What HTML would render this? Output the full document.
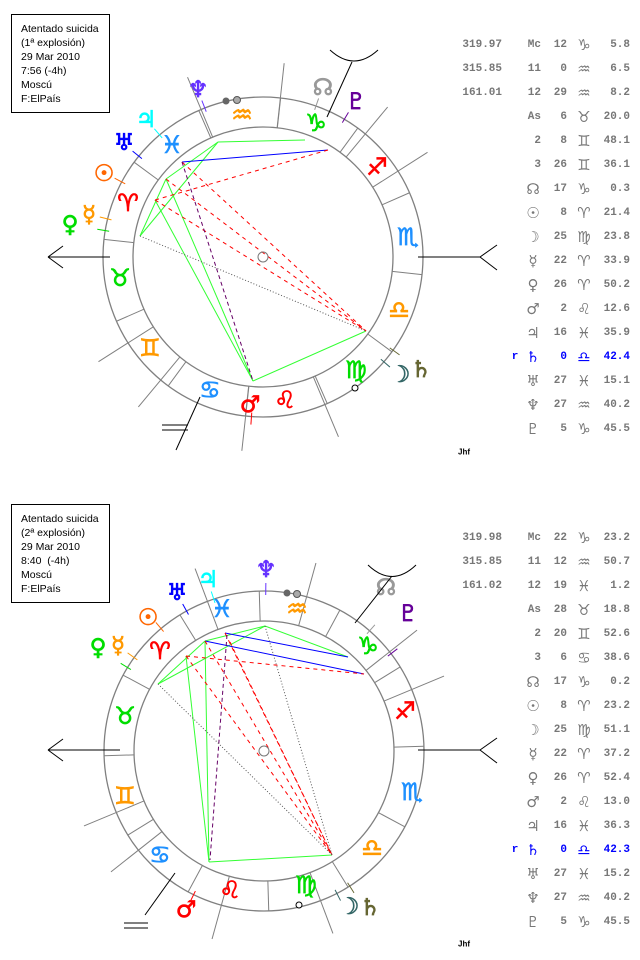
<!DOCTYPE html>
<html><head><meta charset="utf-8">
<style>
body{margin:0;background:#fff;width:640px;height:960px;overflow:hidden;position:relative;font-family:"Liberation Sans",sans-serif}
.box{position:absolute;border:1px solid #000;font-size:10.5px;line-height:14px;padding:7px 9px;width:79px;height:83px;color:#000}
svg{position:absolute;left:0;top:0}
</style></head><body>
<div class="box" style="left:11px;top:14px">Atentado suicida<br>(1ª explosión)<br>29 Mar 2010<br>7:56 (-4h)<br>Moscú<br>F:ElPaís</div>
<div class="box" style="left:11px;top:504px">Atentado suicida<br>(2ª explosión)<br>29 Mar 2010<br>8:40 &nbsp;(-4h)<br>Moscú<br>F:ElPaís</div>
<svg id="s" width="640" height="960" xmlns="http://www.w3.org/2000/svg"></svg>
<script>
var S=document.getElementById('s'),h='';
function L(x1,y1,x2,y2,c,w,d){h+='<line x1="'+x1+'" y1="'+y1+'" x2="'+x2+'" y2="'+y2+'" stroke="'+c+'" stroke-width="'+(w||1)+'"'+(d?' stroke-dasharray="'+d+'"':'')+'/>';}
function T(x,y,t,c,s,a,wt,f,sw){h+='<text x="'+x+'" y="'+y+'" fill="'+c+'" font-size="'+s+'" text-anchor="'+(a||'middle')+'" font-weight="'+(wt||'normal')+'" font-family="'+(f||'DejaVu Sans')+'" dominant-baseline="central"'+(sw?' stroke="'+c+'" stroke-width="'+sw+'"':'')+'>'+t+'</text>';}
var PL=['♆','☊','♇','♃','♅','☉','☿','♀','☽','♄','♂'];
function chart(cx,cy,asc,cusps,signs,planets,lons,P,lines,ax){
 function pt(lon,r){var a=(180+lon-asc)*Math.PI/180;return[cx+r*Math.cos(a),cy-r*Math.sin(a)];}
 h+='<circle cx="'+cx+'" cy="'+cy+'" r="160" fill="none" stroke="#808080" stroke-width="1.3"/>';
 h+='<circle cx="'+cx+'" cy="'+cy+'" r="130" fill="none" stroke="#808080" stroke-width="1.3"/>';
 for(var k=0;k<12;k++){var a=pt(k*30,130),b=pt(k*30,160);L(a[0],a[1],b[0],b[1],'#808080');}
 cusps.forEach(function(c){var a=pt(c,130),b=pt(c,195);L(a[0],a[1],b[0],b[1],'#808080');});
 lines.forEach(function(l){var a=P[l[0]],b=P[l[1]];L(a[0],a[1],b[0],b[1],l[2],1,l[3]);});
 var sg='♈♉♊♋♌♍♎♏♐♑♒♓',sc=['#f00','#0d0','#f90','#1e90ff','#f00','#0d0','#f90','#1e90ff','#f00','#0d0','#f90','#1e90ff'];
 signs.forEach(function(p,i){T(p[0],p[1],sg[i],sc[i],24,'middle','normal',0,0.7);});
 planets.forEach(function(p,i){T(p[0],p[1],p[2],p[3],23,'middle','normal',0,0.7);var a=pt(lons[i],156),b=pt(lons[i],168);L(a[0],a[1],b[0],b[1],p[3]);});
 h+='<circle cx="'+cx+'" cy="'+cy+'" r="5" fill="none" stroke="#777"/>';
 ax(cx,cy);
}
var cols=['#6633ff','#999','#660099','#0ff','#00f','#f60','#f90','#0d0','#366','#663','#f00'];
function pl(arr){return arr.map(function(p,i){return [p[0],p[1],PL[i],cols[i]];});}
var lon=[327.67,287,275.76,346.6,357.25,8.36,22.57,26.84,175.4,180.7,122.2];
// top
chart(263,257,36.33,[68.8,86.6,120.1,149.1,248.8,266.6,300.1,329.1],
 [[128,203],[120,278],[150,348],[210,390],[285,400],[356,370],[399,310],[408,237],[377,167],[316,123],[242,115],[172,145]],
 pl([[198,90],[323,88],[356,102],[146,120],[124,143],[104,174],[89,215],[70,225],[400,375],[421,370],[250,405]]),lon,
 {1:[218,142],2:[305,140],3:[182,162],4:[328,150],5:[166,179],6:[155,200],7:[140,236],8:[253,381],9:[366,331]},
 [[1,2,'#3f3'],[1,5,'#3f3'],[1,7,'#3f3'],[5,7,'#3f3'],[5,8,'#3f3'],[6,8,'#3f3'],[8,9,'#3f3'],[3,4,'#00f'],[4,6,'#f00','4 4'],[3,9,'#f00','4 4'],[5,9,'#f00','4 4'],[6,9,'#f00','4 4'],[3,8,'#606','4 3'],[7,9,'#555','1 2']],
 function(cx,cy){L(110,257,48,257,'#000');L(48,257,63,246,'#000');L(48,257,63,268,'#000');
 L(418,257,480,257,'#000');L(480,257,497,245,'#000');L(480,257,497,270,'#000');
 L(327,117,352,62,'#000');h+='<path d="M330,50 Q354,72 378,50" fill="none" stroke="#000"/>';
 L(200,397,176,450,'#000');L(162,425,188,425,'#000');L(162,430,188,430,'#000');
 h+='<circle cx="226" cy="101" r="3.5" fill="#666"/><circle cx="237" cy="100" r="3.5" fill="#aaa" stroke="#555"/><circle cx="355" cy="388" r="3" fill="#fff" stroke="#000"/>';});
// bottom
chart(264,751,58.3,[80.9,96.6,132.85,169.0,260.9,276.6,312.85,349.0],
 [[160,651],[125,716],[125,796],[160,855],[230,890],[306,885],[372,848],[412,792],[405,711],[368,646],[297,609],[222,609]],
 pl([[266,570],[386,588],[408,614],[208,580],[177,593],[148,618],[118,646],[98,648],[349,907],[370,908],[186,910]]),lon,
 {A:[265,626],B:[205,641],C:[186,656],D:[158,684],E:[225,633],F:[209,862],G:[332,855],H:[348,657],I:[364,674],J:[230,642],K:[227,635],M:[210,860]},
 [['A','B','#3f3'],['B','D','#3f3'],['A','D','#3f3'],['B','F','#3f3'],['C','F','#3f3'],['F','G','#3f3'],['A','H','#3f3'],['B','I','#00f'],['E','H','#00f'],['C','I','#f00','4 4'],['C','G','#f00','4 4'],['B','G','#f00','4 4'],['E','G','#f00','4 4'],['J','G','#f00','4 4'],['K','M','#606','4 3'],['D','G','#555','1 2'],['A','G','#555','1 2']],
 function(cx,cy){L(120,750,48,750,'#000');L(48,750,63,739,'#000');L(48,750,63,761,'#000');
 L(418,750,480,750,'#000');L(480,750,497,738,'#000');L(480,750,497,763,'#000');
 L(355,623,392,576,'#000');h+='<path d="M368,565 Q392,588 416,565" fill="none" stroke="#000"/>';
 L(175,873,145,915,'#000');L(124,923,148,923,'#000');L(124,928,148,928,'#000');
 h+='<circle cx="287" cy="593" r="3.5" fill="#666"/><circle cx="297" cy="594" r="3.5" fill="#aaa" stroke="#555"/><circle cx="299" cy="905" r="3" fill="#fff" stroke="#000"/>';});
// tables
function table(y0,rows){rows.forEach(function(r,i){var y=y0+i*24,c=r[0]=='r'?'#00f':'#777',f='Liberation Mono';
 if(r[0]=='r')T(515,y,'r',c,11,'middle','bold',f);else if(r[0])T(502,y,r[0],c,11,'end','bold',f);
 var al=/[0-9A-Za-z]/.test(r[1]);
 T(al?541:533,y,r[1],c,al?11:15,al?'end':'middle','bold',al?f:'DejaVu Sans');
 T(567,y,r[2],c,11,'end','bold',f);T(584,y,r[3],c,15,'middle','normal');T(630,y,r[4],c,11,'end','bold',f);});}
table(45,[["319.97","Mc","12","♑","5.8"],["315.85","11","0","♒","6.5"],["161.01","12","29","♒","8.2"],["","As","6","♉","20.0"],["","2","8","♊","48.1"],["","3","26","♊","36.1"],["","☊","17","♑","0.3"],["","☉","8","♈","21.4"],["","☽","25","♍","23.8"],["","☿","22","♈","33.9"],["","♀","26","♈","50.2"],["","♂","2","♌","12.6"],["","♃","16","♓","35.9"],["r","♄","0","♎","42.4"],["","♅","27","♓","15.1"],["","♆","27","♒","40.2"],["","♇","5","♑","45.5"]]);
table(538,[["319.98","Mc","22","♑","23.2"],["315.85","11","12","♒","50.7"],["161.02","12","19","♓","1.2"],["","As","28","♉","18.8"],["","2","20","♊","52.6"],["","3","6","♋","38.6"],["","☊","17","♑","0.2"],["","☉","8","♈","23.2"],["","☽","25","♍","51.1"],["","☿","22","♈","37.2"],["","♀","26","♈","52.4"],["","♂","2","♌","13.0"],["","♃","16","♓","36.3"],["r","♄","0","♎","42.3"],["","♅","27","♓","15.2"],["","♆","27","♒","40.2"],["","♇","5","♑","45.5"]]);
T(464,452,'Jhf','#000',8,'middle','bold','Liberation Sans');T(464,944,'Jhf','#000',8,'middle','bold','Liberation Sans');
S.innerHTML=h;
</script>
</body></html>
